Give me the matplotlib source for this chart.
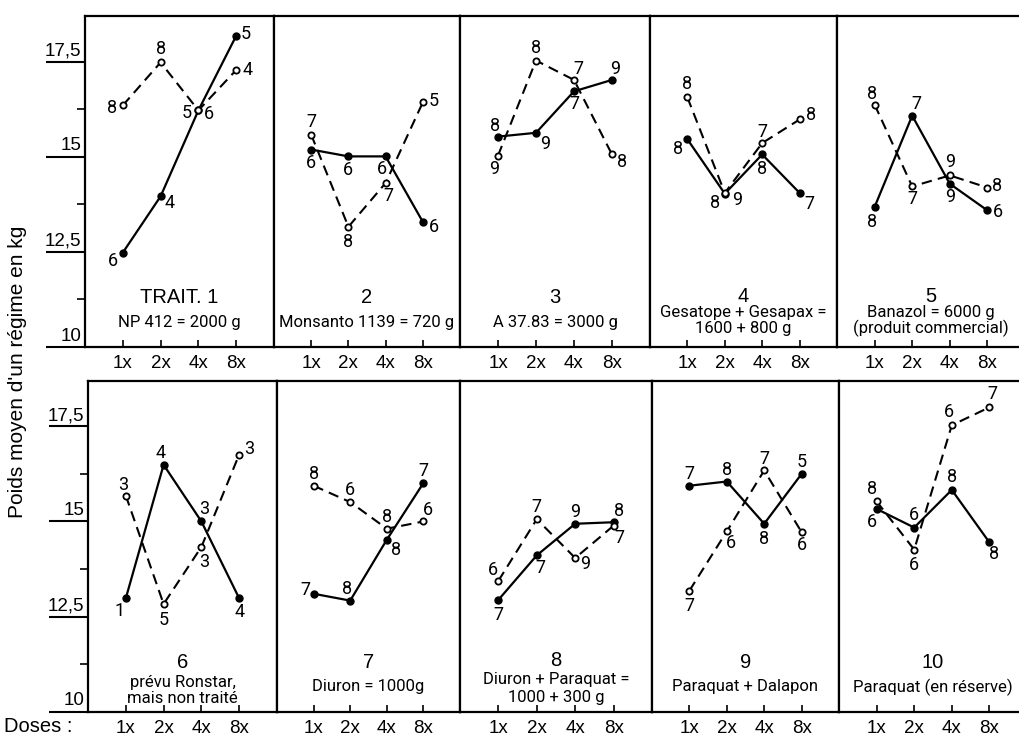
import numpy as np
import matplotlib.pyplot as plt

doses = ["1x", "2x", "4x", "8x"]
x = [1, 2, 3, 4]

titles = ["TRAIT. 1", "2", "3", "4", "5", "6", "7", "8", "9", "10"]
subtitles = [
    ["NP 412 = 2000 g"],
    ["Monsanto 1139 = 720 g"],
    ["A 37.83 = 3000 g"],
    ["Gesatope + Gesapax =", "1600 + 800 g"],
    ["Banazol = 6000 g", "(produit commercial)"],
    ["prévu Ronstar,", "mais non traité"],
    ["Diuron = 1000g"],
    ["Diuron + Paraquat =", "1000 + 300 g"],
    ["Paraquat + Dalapon"],
    ["Paraquat (en réserve)"],
]

# courbe pleine (points noirs)
solid = [
    [12.48, 13.96, 16.22, 18.18],
    [15.19, 15.01, 15.01, 13.29],
    [15.53, 15.63, 16.72, 17.02],
    [15.46, 14.03, 15.06, 14.05],
    [13.68, 16.08, 14.29, 13.59],
    [12.98, 16.49, 15.00, 12.98],
    [13.10, 12.92, 14.52, 16.01],
    [12.94, 14.11, 14.94, 14.98],
    [15.94, 16.05, 14.94, 16.25],
    [15.33, 14.84, 15.83, 14.45],
]
solid_n = [
    [6, 4, 5, 5], [6, 6, 6, 6], [8, 9, 7, 9], [8, 8, 8, 7], [8, 7, 9, 6],
    [1, 4, 3, 4], [7, 8, 8, 7], [7, 7, 9, 8], [7, 8, 8, 5], [6, 6, 8, 8],
]

# courbe tiretee (cercles)
dashed = [
    [16.35, 17.48, 16.22, 17.28],
    [15.58, 13.16, 14.31, 16.43],
    [15.03, 17.53, 17.02, 15.06],
    [16.56, 14.05, 15.36, 15.98],
    [16.37, 14.22, 14.51, 14.19],
    [15.68, 12.83, 14.33, 16.76],
    [15.94, 15.51, 14.81, 15.00],
    [13.44, 15.06, 14.04, 14.89],
    [13.18, 14.74, 16.34, 14.72],
    [15.53, 14.26, 17.53, 18.00],
]
dashed_n = [
    [8, 8, 6, 4], [7, 8, 7, 5], [9, 8, 7, 8], [8, 9, 7, 8], [8, 7, 9, 8],
    [3, 5, 3, 3], [8, 6, 8, 6], [6, 7, 9, 7], [7, 6, 7, 6], [8, 6, 6, 7],
]

# label offsets in pixels
solid_off = [
    [(-10, -8), (9, -7), (-12, -3), (10, 2)],
    [(0, -13), (0, -14), (-4, -13), (11, -5)],
    [(-3, 11), (9, -11), (0, -13), (3, 11)],
    [(-9, -10), (-10, -9), (0, -15), (10, -11)],
    [(-3, -15), (4, 12), (0, -13), (11, -2)],
    [(-6, -13), (-3, 12), (3, 12), (0, -14)],
    [(-8, 4), (-3, 12), (9, -10), (0, 12)],
    [(0, -15), (4, -13), (0, 12), (5, 11)],
    [(0, 12), (0, 12), (0, -15), (0, 12)],
    [(-5, -13), (0, 13), (0, 13), (5, -12)],
]
dashed_off = [
    [(-11, -3), (0, 13), (11, -4), (11, 0)],
    [(0, 13), (0, -15), (3, -13), (11, 1)],
    [(-4, -13), (0, 13), (4, 11), (10, -8)],
    [(0, 13), (12, -7), (0, 11), (11, 4)],
    [(-3, 11), (0, -13), (0, 13), (10, 2)],
    [(-3, 11), (0, -16), (3, -15), (10, 6)],
    [(0, 12), (0, 12), (0, 12), (5, 11)],
    [(-5, 11), (0, 12), (10, -6), (6, -12)],
    [(0, -15), (4, -12), (0, 11), (0, -13)],
    [(-5, 12), (0, -15), (-3, 13), (3, 13)],
]

narrow = ["Roboto", "DejaVu Sans"]
plain = ["Liberation Sans", "DejaVu Sans"]

W, H = 1019, 738
fig = plt.figure(figsize=(W / 100, H / 100), dpi=100)

lefts = [[85, 274, 460, 650, 837], [88, 277, 460, 652, 839]]
bottoms = [347, 711.7]
ph = 331

for i in range(10):
    row, col = divmod(i, 5)
    l = lefts[row][col]
    r = lefts[row][col + 1] if col < 4 else l + 188
    ax = fig.add_axes([l / W, (H - bottoms[row]) / H, (r - l) / W, ph / H])
    ax.set_xlim(0, 5)
    ax.set_ylim(10, 18.7)
    for s in ax.spines.values():
        s.set_linewidth(1.6)

    ax.plot(x, solid[i], "-", color="black", lw=1.6, marker="o", ms=5)
    ax.plot(x, dashed[i], color="black", lw=1.5, ls=(0, (5, 3)), marker="o",
            ms=4.5, mfc="white", mew=1.3)
    for j in range(4):
        ax.annotate(str(solid_n[i][j]), (x[j], solid[i][j]), xytext=solid_off[i][j],
                    textcoords="offset pixels", ha="center", va="center",
                    fontsize=13, family=narrow)
        ax.annotate(str(dashed_n[i][j]), (x[j], dashed[i][j]), xytext=dashed_off[i][j],
                    textcoords="offset pixels", ha="center", va="center",
                    fontsize=13, family=narrow)

    # titre du traitement
    ys = {1: [0.150, 0.075], 2: [0.153, 0.104, 0.057]}[len(subtitles[i])]
    if i == 5:
        ys = [0.150, 0.087, 0.041]
    if i == 7:
        ys = [0.156, 0.096, 0.044]
    ax.text(0.5, ys[0], titles[i], transform=ax.transAxes, ha="center", va="center",
            fontsize=14.5, family=plain)
    for k, s in enumerate(subtitles[i]):
        ax.text(0.5, ys[k + 1], s, transform=ax.transAxes, ha="center", va="center",
                fontsize=12, family=narrow)

    ax.set_xticks(x)
    ax.set_xticklabels(doses, fontsize=13.5, family=plain)
    ax.tick_params(axis="x", direction="in", length=5, width=1.2, pad=6)

    if col == 0:
        ax.set_yticks([10, 12.5, 15, 17.5])
        ax.set_yticks([11.25, 13.75, 16.25], minor=True)
        ax.set_yticklabels([])
        ax.tick_params(axis="y", which="major", length=28, width=1.5, direction="out")
        ax.tick_params(axis="y", which="minor", length=6, width=1.2, direction="out")
        for v, t in zip([10, 12.5, 15, 17.5], ["10", "12,5", "15", "17,5"]):
            ax.text(-0.02, v + 0.06, t, transform=ax.get_yaxis_transform(),
                    ha="right", va="bottom", fontsize=13.5, family=plain)
    else:
        ax.set_yticks([])

fig.text(18 / W, 1 - 372 / H, "Poids moyen d'un régime en kg", rotation=90,
         ha="center", va="center", fontsize=15, family=plain)
fig.text(4 / W, 1 - 726 / H, "Doses :", ha="left", va="center", fontsize=14.5, family=plain)

plt.savefig("out.png", dpi=100)
